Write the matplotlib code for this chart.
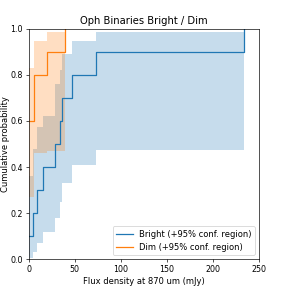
import matplotlib
matplotlib.use("Agg")
import matplotlib.pyplot as plt
import numpy as np

# step positions (mJy) and cumulative probability
bright_x = [0, 5.2, 9.5, 15.5, 28.5, 33.9, 36.4, 47.3, 73.6, 233]
bright_cdf = [0.1, 0.2, 0.3, 0.4, 0.5, 0.6, 0.7, 0.8, 0.9, 1.0]
bright_lo = [0.006, 0.03, 0.07, 0.12, 0.18, 0.25, 0.33, 0.41, 0.474, 0.474]
bright_hi = [0.36, 0.48, 0.575, 0.62, 0.76, 0.82, 0.89, 0.948, 0.986, 0.986]

dim_x = [0, 6, 19.7, 39.2]
dim_cdf = [0.6, 0.8, 0.9, 1.0]
dim_lo = [0.27, 0.46, 0.47, 0.47]
dim_hi = [0.83, 0.947, 0.986, 0.986]

fig = plt.figure(figsize=(4.8, 4.8), dpi=60)
ax = fig.add_axes([0.099, 0.1, 0.801, 0.8])

ax.fill_between(bright_x, bright_lo, bright_hi, step='post', color='tab:blue', alpha=0.25, lw=0)
ax.step(bright_x, bright_cdf, where='post', color='tab:blue', label='Bright (+95% conf. region)')

ax.fill_between(dim_x, dim_lo, dim_hi, step='post', color='tab:orange', alpha=0.25, lw=0)
ax.step(dim_x, dim_cdf, where='post', color='tab:orange', label='Dim (+95% conf. region)')

ax.set_xlim(0, 250)
ax.set_ylim(0, 1)
ax.tick_params(labelsize=9.5)
ax.set_title("Oph Binaries Bright / Dim")
ax.set_xlabel("Flux density at 870 um (mJy)")
ax.set_ylabel("Cumulative probability", labelpad=0)
ax.legend(loc='lower right')

fig.savefig("out.png")
